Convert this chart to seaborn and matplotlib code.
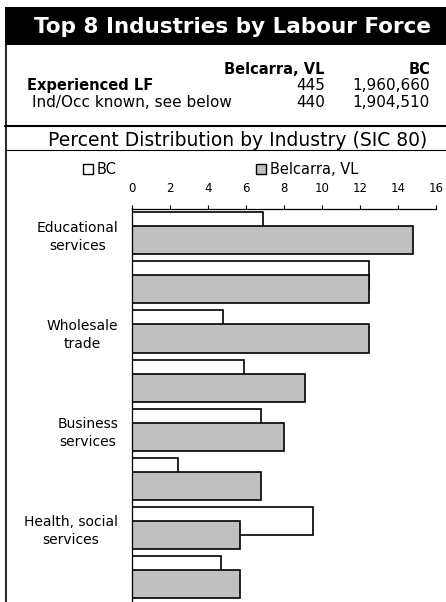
import numpy as np
import pandas as pd
import matplotlib
matplotlib.use("Agg")
import matplotlib.pyplot as plt
from matplotlib.patches import Rectangle, Patch
from matplotlib.lines import Line2D
import seaborn as sns

# data
industry_labels = [
	"Educational\nservices",
	"",  # label skipped in the source chart
	"Wholesale\ntrade",
	"",
	"Business\nservices",
	"",
	"Health, social\nservices",
	"",
]
bc_pct = [6.9, 12.5, 4.8, 5.9, 6.8, 2.4, 9.5, 4.7]
belcarra_pct = [14.8, 12.5, 12.5, 9.1, 8.0, 6.8, 5.7, 5.7]
x_ticks = [0, 2, 4, 6, 8, 10, 12, 14, 16]

header_cols = ["Belcarra, VL", "BC"]
lf_rows = ["Experienced LF", "Ind/Occ known, see below"]
lf_belcarra = ["445", "440"]
lf_bc = ["1,960,660", "1,904,510"]

W, H = 446, 602
GRAY = "#c0c0c0"

sns.set_theme(style="white")
plt.rcParams["font.family"] = ["DejaVu Sans"]
for key in ["text.color", "axes.labelcolor", "xtick.color", "ytick.color", "axes.edgecolor"]:
	plt.rcParams[key] = "black"


def fx(x):
	return x / W


def fy(y):
	return 1 - y / H


fig = plt.figure(figsize=(W / 100, H / 100), dpi=100)

# header block
fig.add_artist(Rectangle((fx(5), fy(45)), 1 - fx(5), (45 - 7) / H, transform=fig.transFigure, color="black", lw=0))
fig.text(fx(233), fy(33), "Top 8 Industries by Labour Force", color="white", fontsize=15.5, fontweight="bold", ha="center", va="baseline")

fig.text(fx(325), fy(74), header_cols[0], fontsize=10.5, fontweight="bold", ha="right", va="baseline")
fig.text(fx(430), fy(74), header_cols[1], fontsize=10.5, fontweight="bold", ha="right", va="baseline")
fig.text(fx(27), fy(90), lf_rows[0], fontsize=10.5, fontweight="bold", ha="left", va="baseline")
fig.text(fx(32), fy(107), lf_rows[1], fontsize=11, ha="left", va="baseline")
for y, a, b in zip([90, 107], lf_belcarra, lf_bc):
	fig.text(fx(325), fy(y), a, fontsize=11, ha="right", va="baseline")
	fig.text(fx(430), fy(y), b, fontsize=11, ha="right", va="baseline")

fig.text(fx(238), fy(146), "Percent Distribution by Industry (SIC 80)", fontsize=13.5, ha="center", va="baseline")

# frame lines
fig.add_artist(Line2D([fx(5.5), fx(5.5)], [fy(45), 0], transform=fig.transFigure, color="black", lw=1.2))
fig.add_artist(Line2D([fx(5), 1], [fy(126), fy(126)], transform=fig.transFigure, color="black", lw=1.5))
fig.add_artist(Line2D([fx(5), 1], [fy(150), fy(150)], transform=fig.transFigure, color="black", lw=0.8))

# bar chart
ax = fig.add_axes([fx(132), 0, (436 - 132) / W, (H - 208.5) / H])
pos = np.arange(len(bc_pct))
df = pd.DataFrame({"pos": pos, "bc": bc_pct, "belcarra": belcarra_pct})

bar_h = 28 / 49
shift = 7 / 49
sns.barplot(x=df["bc"], y=df["pos"] - shift, orient="y", native_scale=True, width=bar_h,
			color="white", edgecolor="black", linewidth=1.2, saturation=1, ax=ax)
sns.barplot(x=df["belcarra"], y=df["pos"] + shift, orient="y", native_scale=True, width=bar_h,
			color=GRAY, edgecolor="black", linewidth=1.2, saturation=1, ax=ax)

ax.set_xlim(0, 16)
ax.set_ylim(7.52, -0.51)
ax.set_xlabel("")
ax.set_ylabel("")
ax.xaxis.tick_top()
ax.set_xticks(x_ticks)
ax.set_xticklabels([str(t) for t in x_ticks])
ax.tick_params(axis="x", direction="out", length=3, width=0.8, color="black", pad=7, labelsize=8.5, top=True, bottom=False)
ax.set_yticks(pos)
ax.set_yticklabels(industry_labels, fontsize=10, multialignment="center", linespacing=1.35)
ax.tick_params(axis="y", length=0, pad=10)
for side in ["right", "bottom"]:
	ax.spines[side].set_visible(False)
for side in ["top", "left"]:
	ax.spines[side].set_color("black")
	ax.spines[side].set_linewidth(0.9)
ax.grid(False)
ax.set_facecolor("white")

handles = [
	Patch(facecolor="white", edgecolor="black", linewidth=1.0, label="BC"),
	Patch(facecolor=GRAY, edgecolor="black", linewidth=1.0, label="Belcarra, VL"),
]
fig.legend(handles=handles, loc="center left", bbox_to_anchor=(fx(82.7), fy(170)), ncol=2, frameon=False,
		   fontsize=10.5, handlelength=0.68, handleheight=0.68, handletextpad=0.27, columnspacing=9.6,
		   borderpad=0, borderaxespad=0)

fig.savefig("out.png", dpi=100)
